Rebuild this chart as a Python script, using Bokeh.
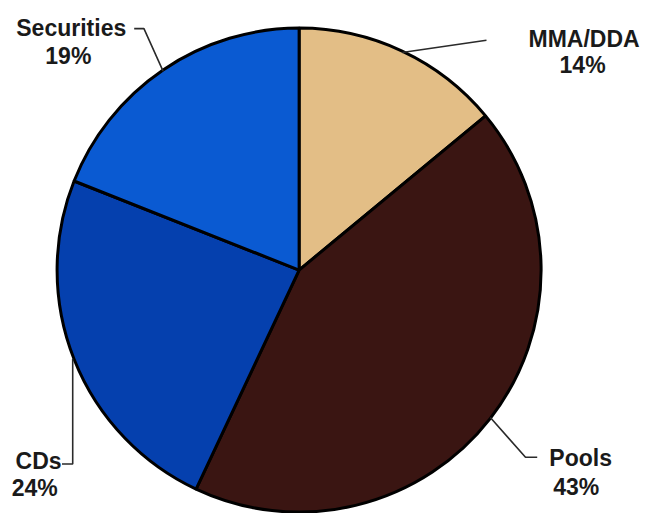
import numpy as np
from bokeh.plotting import figure
from bokeh.models import Range1d, ColumnDataSource
from bokeh.core.properties import value
from bokeh.embed import file_html
from bokeh.resources import INLINE

# ---- data ----
categories = ["MMA/DDA", "Pools", "CDs", "Securities"]
shares = [14, 43, 24, 19]
colors = ["#E3BE86", "#3A1512", "#0540AE", "#0A5AD2"]

# ---- layout (reference-pixel coordinates; y measured up from bottom of 529px canvas) ----
REF_W, REF_H = 662, 529
W, H = 646, 513
cx, cy, r = 306, REF_H - 278, 248
name_pos = [(598, 40), (594.5, 472), (39, 475), (72.5, 28)]
pct_pos = [(596.5, 67), (590, 502), (35, 503), (69.5, 57)]
elbows = [[(498, 41)], [(538, 471), (550, 471)], [(74, 478), (63, 478)], [(147, 29), (137, 29)]]

frac = np.array(shares, dtype=float) / sum(shares)
cum = np.cumsum(frac)
start = np.pi / 2 - 2 * np.pi * (cum - frac)
end = np.pi / 2 - 2 * np.pi * cum
mid = np.pi / 2 - 2 * np.pi * (cum - frac / 2)

p = figure(width=W, height=H, x_range=Range1d(0, REF_W), y_range=Range1d(0, REF_H),
           output_backend="svg", toolbar_location=None, min_border=0)
p.axis.visible = False
p.grid.visible = False
p.outline_line_color = None

src = ColumnDataSource(dict(cat=categories, start=start, end=end, color=colors))
p.wedge(x=cx, y=cy, radius=r, start_angle="start", end_angle="end", direction="clock",
        fill_color="color", line_color="black", line_width=3, source=src)

# leader lines from slice mid-angle on the rim
xs, ys = [], []
for m, el in zip(mid, elbows):
    ax, ay = cx + r * np.cos(m), cy + r * np.sin(m)
    if el[0][0] < 100 and abs(el[0][0] - ax) < 5:
        ax = el[0][0]
    xs.append([ax] + [e[0] for e in el])
    ys.append([ay] + [REF_H - e[1] for e in el])
p.multi_line(xs=xs, ys=ys, line_color="#2a2a2a", line_width=1.6)

font = value("Liberation Sans")
p.text(x=[q[0] for q in name_pos], y=[REF_H - q[1] for q in name_pos], text=categories,
       text_font=font, text_font_style="bold", text_font_size="23px", text_color="#1a1a1a",
       text_align="center", text_baseline="alphabetic")
p.text(x=[q[0] for q in pct_pos], y=[REF_H - q[1] for q in pct_pos], text=[f"{s}%" for s in shares],
       text_font=font, text_font_style="bold", text_font_size="23px", text_color="#1a1a1a",
       text_align="center", text_baseline="alphabetic")

open("out.html", "w").write(file_html(p, INLINE))
